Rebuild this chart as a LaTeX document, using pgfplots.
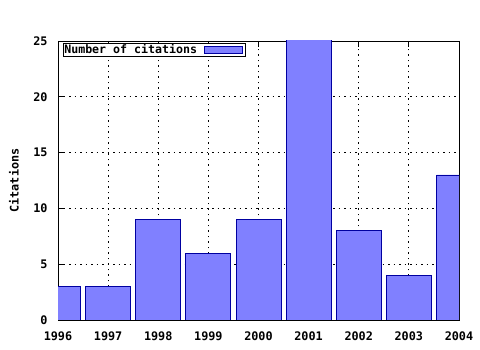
\documentclass[border=0pt]{standalone}
\usepackage{fontspec}
\setmainfont{DejaVu Sans Mono}
\usepackage{pgfplots}
\pgfplotsset{compat=1.18}
\definecolor{barfill}{HTML}{8080FF}
\definecolor{baredge}{HTML}{0000A0}
\begin{document}
\begin{tikzpicture}[font=\fontsize{11.8bp}{14bp}\selectfont\bfseries]
\useasboundingbox (-58bp,-30bp) rectangle (422bp,320bp);
\begin{axis}[
  at={(0,0)}, anchor=south west,
  scale only axis, width=401bp, height=279bp,
  xmin=1996, xmax=2004, ymin=0, ymax=25,
  xtick={1996,...,2004}, ytick={0,5,...,25},
  minor x tick num=3,
  x tick label style={/pgf/number format/1000 sep={}},
  /pgf/number format/assume math mode=true,
  ytick pos=left, xtick pos=both,
  tick align=inside,
  major tick length=6bp, minor tick length=3bp,
  tick style={black, line width=0.8pt},
  axis line style={black, line width=0.8pt},
  grid=major,
  major grid style={black, dash pattern=on 1.5bp off 4bp, line width=0.8pt},
  ylabel={Citations},
  every axis y label/.style={at={(axis description cs:-0.1097,0.5)},rotate=90,anchor=center},
  xticklabel style={yshift=-8bp},
  yticklabel style={xshift=-7bp},
  legend style={at={(axis description cs:0.0125,0.993)}, anchor=north west,
    draw=black, line width=0.8pt, inner sep=0pt, outer sep=0pt, row sep=0pt,
    font=\fontsize{11.6bp}{13bp}\selectfont\bfseries, fill=white,
    nodes={inner sep=1.3pt}},
  legend plot pos=right,
  legend cell align=left,
  clip=true,
]
\addplot[ybar, bar width=45bp, fill=barfill, draw=baredge, line width=0.8pt,
  legend image code/.code={\path[draw=none,fill=none] (0bp,0bp) (47bp,0bp);\draw[fill=barfill, draw=baredge, line width=0.8pt] (6bp,-3.5bp) rectangle (44bp,3.5bp);}]
  coordinates {(1996,3) (1997,3) (1998,9) (1999,6) (2000,9) (2001,25.5) (2002,8) (2003,4) (2004,13)};
\addlegendentry{Number of citations}
\end{axis}
\end{tikzpicture}
\end{document}
